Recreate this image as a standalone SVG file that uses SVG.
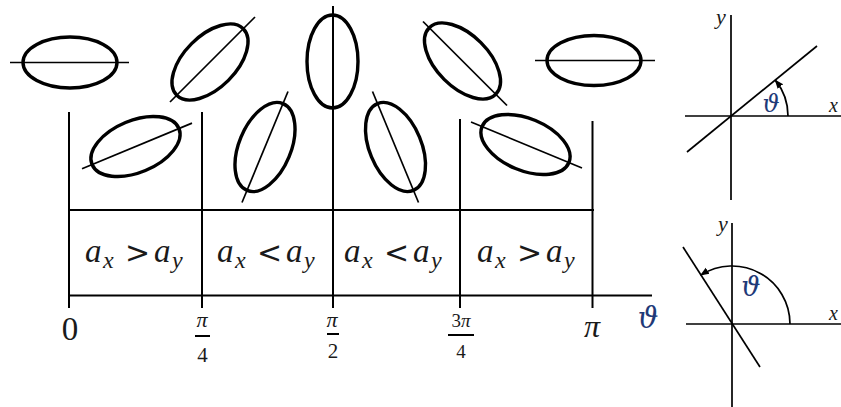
<svg xmlns="http://www.w3.org/2000/svg" width="841" height="407" viewBox="0 0 841 407">
<style>
.ell{fill:none;stroke:#000;stroke-width:3.4}
.ln{stroke:#000;stroke-width:1.7;fill:none}
.grid{stroke:#000;stroke-width:2;fill:none}
.m{font-family:"Liberation Serif","DejaVu Serif",serif;font-style:italic;fill:#1a1a1a}
.r{font-family:"Liberation Serif","DejaVu Serif",serif;fill:#1a1a1a}
.big{font-size:33px}
.sub{font-size:24px}
.rel{font-family:"DejaVu Sans","Liberation Sans",sans-serif;font-style:normal;font-size:30px;fill:#1a1a1a}
.th{font-family:"DejaVu Serif","Liberation Serif",serif;font-style:italic;fill:#1F3A78}
</style>
<defs>
<marker id="ah" viewBox="0 0 10 10" refX="9" refY="5" markerWidth="9" markerHeight="9" markerUnits="userSpaceOnUse" orient="auto">
<path d="M0,1 L10,5 L0,9 Z" fill="#000"/>
</marker>
</defs>

<g id="ellipses">
<g id="e0"><ellipse class="ell" cx="70" cy="62.5" rx="47" ry="25.5"/><line class="ln" x1="10" y1="62.5" x2="129" y2="62.5"/></g>
<g id="e45"><ellipse class="ell" cx="210" cy="62" rx="47" ry="26" transform="rotate(-45 210 62)"/><line class="ln" x1="170" y1="102" x2="255" y2="17"/></g>
<g id="e22"><ellipse class="ell" cx="135.5" cy="146.5" rx="47" ry="26" transform="rotate(-22.5 135.5 146.5)"/><line class="ln" x1="82" y1="168.7" x2="192" y2="123.1"/></g>
<g id="e67"><ellipse class="ell" cx="265" cy="147" rx="47" ry="26" transform="rotate(-67.5 265 147)"/><line class="ln" x1="242" y1="202.5" x2="288" y2="91.5"/></g>
<g id="e90"><ellipse class="ell" cx="332.5" cy="61.5" rx="25.5" ry="46.5"/></g>
<g id="e112"><ellipse class="ell" cx="395.5" cy="147" rx="47" ry="26" transform="rotate(67.5 395.5 147)"/><line class="ln" x1="372.5" y1="91.5" x2="418.5" y2="202.5"/></g>
<g id="e135"><ellipse class="ell" cx="462.5" cy="61" rx="47" ry="26" transform="rotate(45 462.5 61)"/><line class="ln" x1="423" y1="21.5" x2="507" y2="105.5"/></g>
<g id="e157"><ellipse class="ell" cx="525.5" cy="144.5" rx="47" ry="26" transform="rotate(22.5 525.5 144.5)"/><line class="ln" x1="471" y1="122" x2="582" y2="168"/></g>
<g id="e180"><ellipse class="ell" cx="594" cy="60.5" rx="47" ry="25"/><line class="ln" x1="535" y1="60.5" x2="655" y2="60.5"/></g>
</g>

<g id="chart">
<line class="grid" x1="69" y1="112" x2="69" y2="308"/>
<line class="grid" x1="202" y1="112" x2="202" y2="308"/>
<line class="grid" x1="333" y1="6" x2="333" y2="308"/>
<line class="grid" x1="460" y1="119" x2="460" y2="308"/>
<line class="grid" x1="592.5" y1="121" x2="592.5" y2="308"/>
<line class="grid" x1="68" y1="210" x2="594" y2="210"/>
<line class="grid" x1="68" y1="295.5" x2="652" y2="295.5"/>
</g>

<g id="cells">
<text class="m big" y="262"><tspan x="85">a</tspan><tspan class="sub" x="103" y="268">x</tspan><tspan class="rel" x="125" y="263">&gt;</tspan><tspan x="154" y="262">a</tspan><tspan class="sub" x="172" y="268">y</tspan></text>
<text class="m big" y="262"><tspan x="217">a</tspan><tspan class="sub" x="235" y="268">x</tspan><tspan class="rel" x="257" y="263">&lt;</tspan><tspan x="286" y="262">a</tspan><tspan class="sub" x="304" y="268">y</tspan></text>
<text class="m big" y="262"><tspan x="344">a</tspan><tspan class="sub" x="362" y="268">x</tspan><tspan class="rel" x="384" y="263">&lt;</tspan><tspan x="413" y="262">a</tspan><tspan class="sub" x="431" y="268">y</tspan></text>
<text class="m big" y="262"><tspan x="477">a</tspan><tspan class="sub" x="495" y="268">x</tspan><tspan class="rel" x="517" y="263">&gt;</tspan><tspan x="546" y="262">a</tspan><tspan class="sub" x="564" y="268">y</tspan></text>
</g>

<g id="ticks">
<text class="r" x="70" y="340" font-size="33" text-anchor="middle">0</text>
<text class="m" x="202" y="327" font-size="22" text-anchor="middle">π</text>
<line class="grid" x1="195" y1="336" x2="210" y2="336"/>
<text class="r" x="202.5" y="362" font-size="21" text-anchor="middle">4</text>
<text class="m" x="332" y="327" font-size="22" text-anchor="middle">π</text>
<line class="grid" x1="327" y1="334" x2="339" y2="334"/>
<text class="r" x="333" y="358" font-size="21" text-anchor="middle">2</text>
<text class="m" x="461" y="327" font-size="19" text-anchor="middle"><tspan font-style="normal">3</tspan>π</text>
<line class="grid" x1="448" y1="335" x2="474" y2="335"/>
<text class="r" x="461" y="358" font-size="19" text-anchor="middle">4</text>
<text class="m" x="592" y="337" font-size="32" text-anchor="middle">π</text>
<text class="th" x="648" y="328" font-size="29" text-anchor="middle">ϑ</text>
</g>

<g id="panel1">
<line class="ln" x1="731" y1="15" x2="731" y2="200"/>
<line class="ln" x1="685" y1="116" x2="841" y2="116"/>
<line class="ln" x1="687" y1="152" x2="817" y2="46"/>
<path class="ln" d="M788,116 A57,57 0 0 0 775.3,80.1" marker-end="url(#ah)"/>
<text class="m" x="721" y="24" font-size="22" text-anchor="middle">y</text>
<text class="m" x="829" y="112" font-size="20">x</text>
<text class="th" x="771" y="112" font-size="24" text-anchor="middle">ϑ</text>
</g>

<g id="panel2">
<line class="ln" x1="732" y1="223" x2="732" y2="407"/>
<line class="ln" x1="686" y1="324" x2="841" y2="324"/>
<line class="ln" x1="683" y1="247" x2="760" y2="367"/>
<path class="ln" d="M790,324 A58,58 0 0 0 700.8,275.1" marker-end="url(#ah)"/>
<text class="m" x="723" y="231" font-size="22" text-anchor="middle">y</text>
<text class="m" x="829" y="320" font-size="20">x</text>
<text class="th" x="751" y="296" font-size="27" text-anchor="middle">ϑ</text>
</g>
</svg>
